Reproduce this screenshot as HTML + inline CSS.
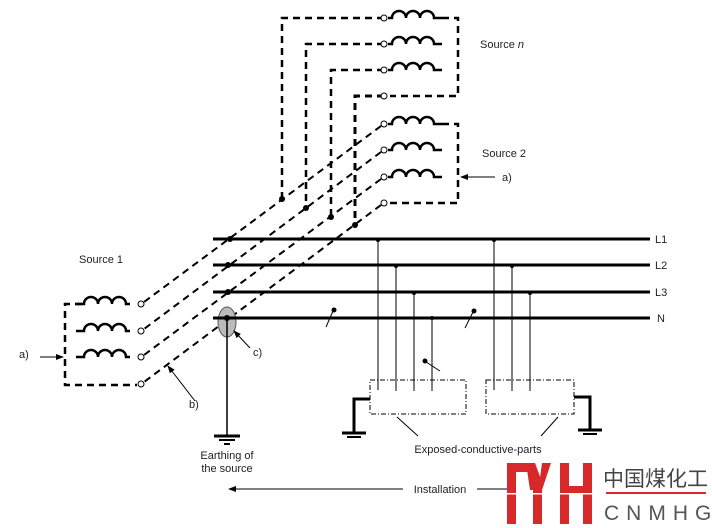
<!DOCTYPE html>
<html><head><meta charset="utf-8"><style>
body{margin:0;background:#fff;width:712px;height:528px;overflow:hidden}
svg{display:block}
text{font-family:"Liberation Sans",Arial,sans-serif;font-size:11px;fill:#222}
</style></head><body>
<svg width="712" height="528" viewBox="0 0 712 528" xmlns="http://www.w3.org/2000/svg">
<defs>
<marker id="ah" markerWidth="8" markerHeight="8" refX="7" refY="4" orient="auto" markerUnits="userSpaceOnUse"><path d="M0,1 L8,4 L0,7 z" fill="#000"/></marker>
<g id="coilR"><path d="M0,0 h4 a7,7 0 0 1 14,0 a7,7 0 0 1 14,0 a7,7 0 0 1 14,0 h8" fill="none" stroke="#000" stroke-width="2.5"/></g>
</defs>
<g fill="none" stroke="#000">
<g stroke-width="2.5" stroke-dasharray="7,5">
<path d="M384,18 H282 V198"/>
<path d="M384,44 H306 V208"/>
<path d="M384,70 H331 V217"/>
<path d="M384,96 H355 V224" stroke-width="3"/>
<path d="M442,18 H458 V96 H390"/>
<path d="M442,124 H458 V203 H390"/>
</g>
<use href="#coilR" x="388" y="18"/>
<use href="#coilR" x="388" y="44"/>
<use href="#coilR" x="388" y="70"/>
<use href="#coilR" x="388" y="124"/>
<use href="#coilR" x="388" y="150"/>
<use href="#coilR" x="388" y="177"/>
<g stroke-width="2" stroke-dasharray="7,5">
<line x1="381" y1="126" x2="144" y2="302"/>
<line x1="381" y1="152" x2="144" y2="329"/>
<line x1="381" y1="179" x2="144" y2="355"/>
<line x1="381" y1="205" x2="144" y2="382"/>
</g>
<g stroke-width="2.5" stroke-dasharray="7,5">
<path d="M82,304 H65 V385 H137"/>
</g>
<g transform="translate(130,304) scale(-1,1)"><use href="#coilR"/></g>
<g transform="translate(130,331) scale(-1,1)"><use href="#coilR"/></g>
<g transform="translate(130,357) scale(-1,1)"><use href="#coilR"/></g>
<g stroke-width="1" fill="#fff">
<circle cx="384" cy="18" r="3"/><circle cx="384" cy="44" r="3"/><circle cx="384" cy="70" r="3"/><circle cx="384" cy="96" r="3"/>
<circle cx="384" cy="124" r="3"/><circle cx="384" cy="150" r="3"/><circle cx="384" cy="177" r="3"/><circle cx="384" cy="203" r="3"/>
<circle cx="141" cy="304" r="3"/><circle cx="141" cy="331" r="3"/><circle cx="141" cy="357" r="3"/><circle cx="141" cy="384" r="3"/>
</g>
<ellipse cx="227" cy="322" rx="9" ry="15" fill="#bbb" stroke="#555" stroke-width="1"/>
<g stroke-width="3">
<line x1="213" y1="239" x2="650" y2="239"/>
<line x1="213" y1="265" x2="650" y2="265"/>
<line x1="213" y1="292" x2="650" y2="292"/>
<line x1="213" y1="318" x2="650" y2="318"/>
</g>
<line x1="227" y1="318" x2="227" y2="435" stroke-width="1.5"/>
<line x1="214" y1="436" x2="240" y2="436" stroke-width="3"/>
<line x1="219" y1="440" x2="235" y2="440" stroke-width="2"/>
<line x1="224" y1="444" x2="230" y2="444" stroke-width="2"/>
<g stroke-width="1">
<line x1="378" y1="239" x2="378" y2="390"/>
<line x1="396" y1="265" x2="396" y2="391"/>
<line x1="414" y1="292" x2="414" y2="391"/>
<line x1="432" y1="318" x2="432" y2="391"/>
<line x1="494" y1="239" x2="494" y2="390"/>
<line x1="512" y1="265" x2="512" y2="391"/>
<line x1="530" y1="292" x2="530" y2="391"/>
<rect x="370" y="380" width="96" height="34" stroke-dasharray="5,2,1,2"/>
<rect x="486" y="380" width="88" height="34" stroke-dasharray="5,2,1,2"/>
<line x1="397" y1="417" x2="418" y2="436"/>
<line x1="558" y1="417" x2="541" y2="436"/>
<line x1="326" y1="327" x2="333" y2="311"/>
<line x1="465" y1="328" x2="473" y2="312"/>
<line x1="426" y1="362" x2="440" y2="371"/>
</g>
<path d="M370,399 H354 V433" stroke-width="3"/>
<line x1="342" y1="433" x2="366" y2="433" stroke-width="3"/>
<line x1="347" y1="437" x2="361" y2="437" stroke-width="2"/>
<path d="M574,397 H590 V430" stroke-width="3"/>
<line x1="578" y1="430" x2="602" y2="430" stroke-width="3"/>
<line x1="583" y1="434" x2="597" y2="434" stroke-width="2"/>
<g stroke-width="1">
<line x1="495" y1="177" x2="461" y2="177" marker-end="url(#ah)"/>
<line x1="40" y1="357" x2="63" y2="357" marker-end="url(#ah)"/>
<line x1="195" y1="401" x2="168" y2="366" marker-end="url(#ah)"/>
<line x1="250" y1="348" x2="234" y2="331" marker-end="url(#ah)"/>
<line x1="403" y1="489" x2="229" y2="489" marker-end="url(#ah)"/>
<line x1="477" y1="489" x2="510" y2="489"/>
</g>
</g>
<g fill="#000">
<circle cx="282" cy="199" r="3"/><circle cx="306" cy="208" r="3"/><circle cx="331" cy="217" r="3"/><circle cx="355" cy="225" r="3"/>
<circle cx="230" cy="239" r="3"/><circle cx="228" cy="265" r="3"/><circle cx="228" cy="292" r="3"/><circle cx="227" cy="318" r="3"/>
<circle cx="378" cy="240" r="2"/><circle cx="396" cy="266" r="2"/><circle cx="414" cy="293" r="2"/><circle cx="432" cy="318" r="2"/>
<circle cx="494" cy="240" r="2"/><circle cx="512" cy="266" r="2"/><circle cx="530" cy="293" r="2"/>
<circle cx="334" cy="310" r="2.5"/><circle cx="474" cy="311" r="2.5"/><circle cx="425" cy="361" r="2.5"/>
</g>
<text x="480" y="48">Source <tspan font-style="italic">n</tspan></text>
<text x="482" y="157">Source 2</text>
<text x="502" y="181">a)</text>
<text x="79" y="263">Source 1</text>
<text x="19" y="358">a)</text>
<text x="189" y="408">b)</text>
<text x="253" y="356">c)</text>
<text x="655" y="243">L1</text>
<text x="655" y="269">L2</text>
<text x="655" y="296">L3</text>
<text x="657" y="322">N</text>
<text x="227" y="459" text-anchor="middle">Earthing of</text>
<text x="227" y="472" text-anchor="middle">the source</text>
<text x="478" y="453" text-anchor="middle">Exposed-conductive-parts</text>
<text x="440" y="493" text-anchor="middle">Installation</text>
<g fill="#d7282a">
<rect x="507" y="463" width="9" height="61"/>
<rect x="507" y="463" width="22" height="9"/>
<polygon points="526,463 535,463 542,482 536,490 530,490"/>
<polygon points="542,463 551,463 542,490 536,490 540,478"/>
<rect x="533" y="486" width="9" height="38"/>
<rect x="560" y="463" width="9" height="61"/>
<rect x="583" y="463" width="9" height="61"/>
<rect x="569" y="486" width="14" height="7"/>
<rect x="606" y="492" width="100" height="2"/>
</g>
<rect x="505" y="493" width="90" height="1.5" fill="#fff"/>
<text x="603" y="486" style="font-family:'Noto Sans CJK SC',sans-serif;font-size:21px;fill:#444">中国煤化工</text>
<text x="604" y="520" style="font-size:21px;fill:#555;letter-spacing:7px">CNMHG</text>
</svg>
</body></html>
